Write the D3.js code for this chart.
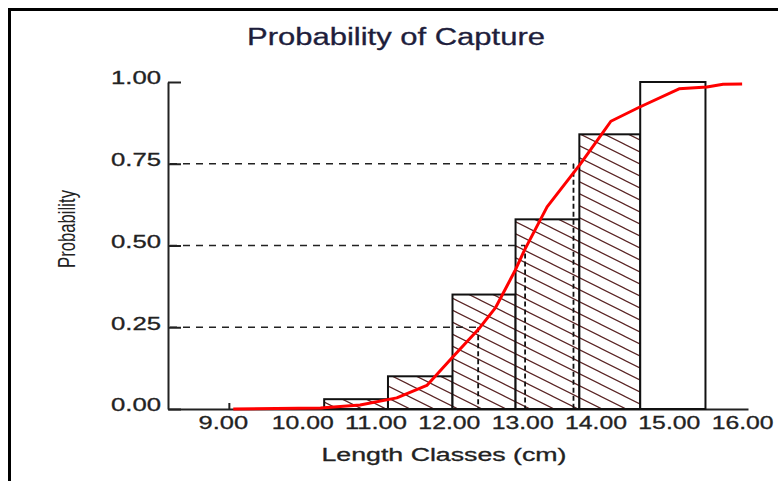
<!DOCTYPE html>
<html>
<head>
<meta charset="utf-8">
<script src="https://cdn.jsdelivr.net/npm/d3@7"></script>
<style>
body { margin: 0; background: #fff; }
svg { display: block; }
text { font-family: "Liberation Sans", Arial, sans-serif; fill: #222; }
</style>
</head>
<body>
<script>
var w = 778;
var h = 481;

// length classes: bar edges (cm) and probability of each class
var classEdges = [10.30, 11.17, 12.05, 12.91, 13.78, 14.61, 15.50];
var classProb = [0.03, 0.10, 0.35, 0.58, 0.84, 1.00];

// fitted selection curve
var curveLength = [9.06, 10.25, 10.79, 11.29, 11.70, 12.05, 12.42, 12.64, 12.90, 13.03, 13.34, 13.52, 13.79, 14.10, 14.21, 14.59, 15.14, 15.52, 15.74, 16.00];
var curveProb = [0.000, 0.003, 0.012, 0.034, 0.072, 0.158, 0.248, 0.311, 0.422, 0.485, 0.618, 0.670, 0.748, 0.845, 0.880, 0.922, 0.979, 0.985, 0.993, 0.994];

// L25, L50, L75
var refProb = [0.25, 0.50, 0.75];
var refLength = [12.40, 13.04, 13.70];

var xTicks = [9, 10, 11, 12, 13, 14, 15, 16];
var yTicks = [0, 0.25, 0.5, 0.75, 1];

var svg = d3.select("body")
    .append("svg")
    .attr("width", w)
    .attr("height", h);

// outer frame (cut off on the right and bottom)
svg.append("rect")
    .attr("x", 9.5)
    .attr("y", 9.5)
    .attr("width", 900)
    .attr("height", 600)
    .attr("fill", "none")
    .attr("stroke", "#000")
    .attr("stroke-width", 3);

var x = d3.scaleLinear()
    .domain([8.17, 16.08])
    .range([168, 748]);

var y = d3.scaleLinear()
    .domain([0, 1])
    .range([409, 82]);

var defs = svg.append("defs");
var pat = defs.append("pattern")
    .attr("id", "hatch")
    .attr("patternUnits", "userSpaceOnUse")
    .attr("width", 24)
    .attr("height", 12);
pat.append("rect")
    .attr("width", 24)
    .attr("height", 12)
    .attr("fill", "#fff");
pat.append("path")
    .attr("d", "M-2,-1L26,13M-2,11L2,13M22,-1L26,1")
    .attr("stroke", "#5a2424")
    .attr("stroke-width", 1.2);

// axes
var fmt = d3.format(".2f");

var xAxis = d3.axisBottom(x)
    .tickValues(xTicks)
    .tickFormat(fmt)
    .tickSizeInner(-6)
    .tickSizeOuter(0);

var gx = svg.append("g")
    .attr("transform", "translate(0," + y(0) + ")")
    .call(xAxis);
gx.selectAll("text")
    .attr("y", 7)
    .attr("dx", function(d, i){ return i == 0 ? -6 : 0; })
    .attr("font-size", 19)
    .attr("textLength", function(d){
        return fmt(d).length * 12.4;
    })
    .attr("lengthAdjust", "spacingAndGlyphs");
// only the first tick mark shows; the rest sit under the curve and bars
gx.selectAll(".tick line")
    .attr("opacity", function(d, i){ return i == 0 ? 1 : 0; });

var yAxis = d3.axisLeft(y)
    .tickValues(yTicks)
    .tickFormat(fmt)
    .tickSizeInner(-13)
    .tickSizeOuter(0);

var gy = svg.append("g")
    .attr("transform", "translate(" + x.range()[0] + ",0)")
    .call(yAxis);
gy.selectAll("text")
    .attr("x", -7)
    .attr("y", -4)
    .attr("font-size", 18)
    .attr("textLength", 50)
    .attr("lengthAdjust", "spacingAndGlyphs");

svg.selectAll(".domain, .tick line")
    .attr("stroke", "#222")
    .attr("stroke-width", 2);
svg.selectAll(".tick text")
    .attr("fill", "#222")
    .attr("stroke", "#222")
    .attr("stroke-width", 0.3)
    .attr("font-family", "Liberation Sans, Arial, sans-serif");

// class bars
svg.append("g")
    .selectAll("rect")
    .data(classProb)
    .enter()
    .append("rect")
    .attr("x", function(d, i){
        return x(classEdges[i]);
    })
    .attr("y", function(d){
        return y(d);
    })
    .attr("width", function(d, i){
        return x(classEdges[i + 1]) - x(classEdges[i]);
    })
    .attr("height", function(d){
        return y(0) - y(d);
    })
    .attr("fill", function(d, i){
        return i < classProb.length - 1 ? "url(#hatch)" : "#fff";
    })
    .attr("stroke", "#111")
    .attr("stroke-width", 2);

// dashed L25 / L50 / L75 guides
var guides = svg.append("g");
guides.selectAll("line.hz")
    .data(refProb)
    .enter()
    .append("line")
    .attr("class", "hz")
    .attr("x1", x.range()[0] + 2)
    .attr("x2", function(d, i){
        return x(refLength[i]);
    })
    .attr("y1", function(d){ return y(d); })
    .attr("y2", function(d){ return y(d); })
    .attr("stroke", "#222")
    .attr("stroke-width", 1.4)
    .attr("stroke-dasharray", "7,6");
guides.selectAll("line.vt")
    .data(refProb)
    .enter()
    .append("line")
    .attr("class", "vt")
    .attr("x1", function(d, i){ return x(refLength[i]); })
    .attr("x2", function(d, i){ return x(refLength[i]); })
    .attr("y1", function(d){ return y(d); })
    .attr("y2", y(0))
    .attr("stroke", "#111")
    .attr("stroke-width", 1.8)
    .attr("stroke-dasharray", "5,3");

// red capture curve
var pts = curveLength.map(function(d, i){
    return [d, curveProb[i]];
});
var line = d3.line()
    .x(function(d){ return x(d[0]); })
    .y(function(d){ return y(d[1]); });

svg.append("path")
    .datum(pts)
    .attr("d", line)
    .attr("fill", "none")
    .attr("stroke", "#ff0000")
    .attr("stroke-width", 3)
    .attr("stroke-linejoin", "round");

// titles
svg.append("text")
    .attr("x", 396)
    .attr("y", 45)
    .attr("text-anchor", "middle")
    .attr("font-size", 23)
    .attr("textLength", 298)
    .attr("lengthAdjust", "spacingAndGlyphs")
    .style("fill", "#1e1e3c")
    .style("stroke", "#1e1e3c")
    .style("stroke-width", 0.3)
    .text("Probability of Capture");

svg.append("text")
    .attr("x", 444)
    .attr("y", 461)
    .attr("text-anchor", "middle")
    .attr("font-size", 18)
    .attr("textLength", 245)
    .attr("lengthAdjust", "spacingAndGlyphs")
    .style("stroke", "#222")
    .style("stroke-width", 0.3)
    .text("Length Classes (cm)");

svg.append("text")
    .attr("transform", "translate(75,229) rotate(-90)")
    .attr("text-anchor", "middle")
    .attr("font-size", 24)
    .attr("textLength", 78)
    .attr("lengthAdjust", "spacingAndGlyphs")
    .style("font-family", "'Liberation Sans Narrow', 'Liberation Sans', Arial, sans-serif")
    .text("Probability");
</script>
</body>
</html>
